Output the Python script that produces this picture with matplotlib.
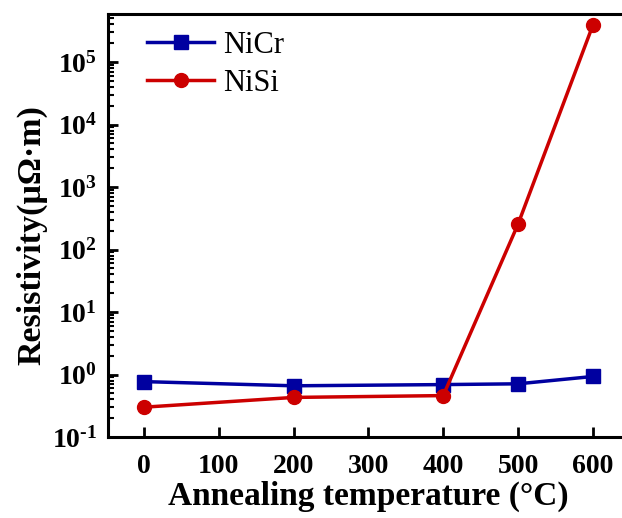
import math
import matplotlib
matplotlib.use('Agg')
import matplotlib.pyplot as plt
from matplotlib.ticker import LogLocator, FixedLocator, FuncFormatter

temps = [0, 200, 400, 500, 600]
nicr = [0.77, 0.66, 0.69, 0.71, 0.93]
nisi = [0.30, 0.43, 0.46, 255, 3.9e5]

plt.rcParams['font.family'] = ['Liberation Serif', 'DejaVu Serif']
plt.rcParams['font.weight'] = 'bold'
plt.rcParams['axes.unicode_minus'] = False
plt.rcParams['mathtext.fontset'] = 'custom'
plt.rcParams['mathtext.rm'] = 'Liberation Serif:bold'
plt.rcParams['mathtext.it'] = 'Liberation Serif:bold'
plt.rcParams['mathtext.bf'] = 'Liberation Serif:bold'


def pow_label(v, pos):
    e = round(math.log10(v))
    if e < 0:
        return r'$\mathregular{10^{\text{-}%d}}$' % (-e)
    return r'$\mathregular{10^{%d}}$' % e


fig = plt.figure(figsize=(6.22, 5.18), dpi=100)
ax = fig.add_axes([108/622, 1-437/518, (640-108)/622, (437-14)/518])

ax.plot(temps, nicr, color='#0000A0', lw=2.5, marker='s', ms=9.5, label='NiCr')
ax.plot(temps, nisi, color='#CC0000', lw=2.5, marker='o', ms=10, label='NiSi')

ax.set_yscale('log')
ax.set_ylim(0.1, 10**5.77)
ax.set_xlim(-48, 663)
ax.xaxis.set_major_locator(FixedLocator([0, 100, 200, 300, 400, 500, 600]))
ax.yaxis.set_major_locator(LogLocator(base=10, numticks=12))
ax.yaxis.set_minor_locator(LogLocator(base=10, subs=range(2, 10), numticks=12))
ax.yaxis.set_major_formatter(FuncFormatter(pow_label))

for s in ['left', 'bottom', 'top']:
    ax.spines[s].set_linewidth(2.2)
ax.spines['right'].set_visible(False)

ax.tick_params(axis='both', which='major', direction='in', width=2, length=7,
               labelsize=20)
ax.tick_params(axis='y', which='minor', direction='in', width=1.5, length=4)
ax.tick_params(axis='x', pad=12)
ax.tick_params(axis='y', pad=8)

ax.set_xlabel('Annealing temperature (\u00b0C)', fontsize=24, fontweight='bold')
ax.set_ylabel('Resistivity(\u03bc\u03a9\u00b7m)', fontsize=24.5, fontweight='bold')
ax.xaxis.set_label_coords(0.49, -0.103)
ax.yaxis.set_label_coords(-0.113, 0.478)

ax.legend(loc='upper left', frameon=False, handlelength=2.2,
          bbox_to_anchor=(0.022, 1.025), labelspacing=0.3, handletextpad=0.3,
          prop={'family': 'Liberation Serif', 'weight': 'normal', 'size': 22})

fig.savefig('out.png', dpi=100)
